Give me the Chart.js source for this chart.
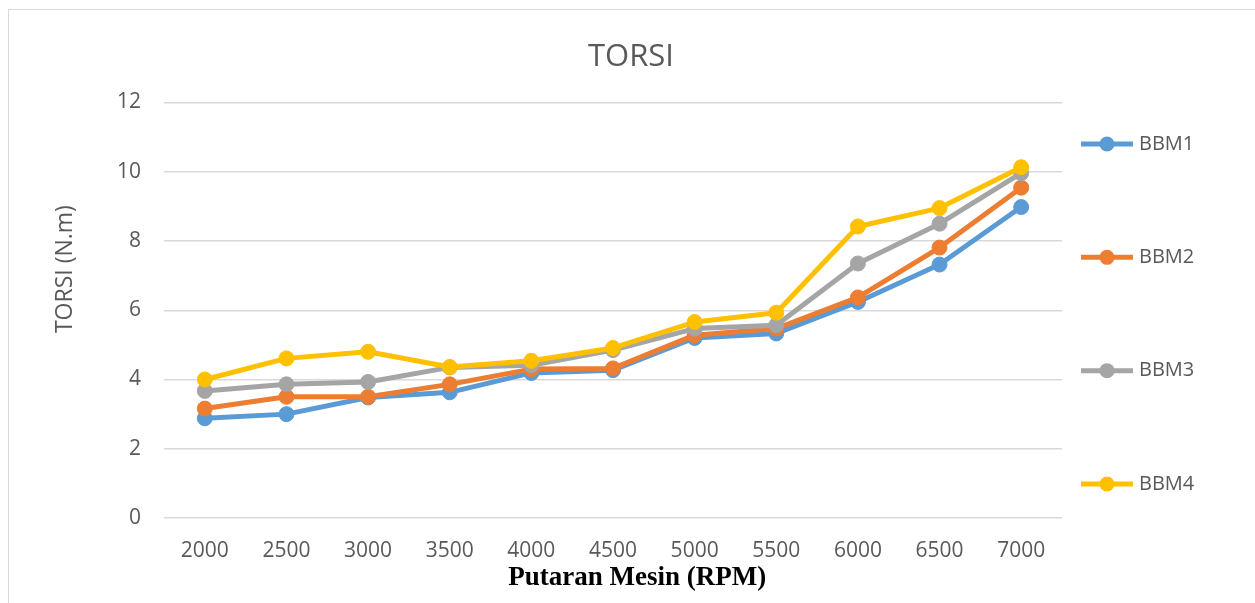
<!DOCTYPE html>
<html><head><meta charset="utf-8">
<script src="https://cdn.jsdelivr.net/npm/chart.js@4/dist/chart.umd.min.js"></script>
<style>
html,body{margin:0;padding:0;background:#fff;overflow:hidden;width:1255px;height:603px}
#frame{position:absolute;left:8px;top:9px;width:1400px;height:800px;border-left:1.5px solid #d9d9d9;border-top:1.5px solid #d9d9d9;box-sizing:border-box}
#c{position:absolute;left:0;top:0}
</style></head><body>
<div id="frame"></div>
<canvas id="c" width="1255" height="603"></canvas>
<script>
const categories = ['2000','2500','3000','3500','4000','4500','5000','5500','6000','6500','7000'];
const bbm1 = [2.88, 3.00, 3.48, 3.63, 4.19, 4.27, 5.20, 5.33, 6.24, 7.32, 8.98];
const bbm2 = [3.16, 3.50, 3.50, 3.86, 4.30, 4.32, 5.28, 5.47, 6.37, 7.81, 9.54];
const bbm3 = [3.67, 3.86, 3.93, 4.35, 4.41, 4.85, 5.47, 5.57, 7.35, 8.50, 9.96];
const bbm4 = [4.00, 4.61, 4.80, 4.36, 4.54, 4.91, 5.66, 5.93, 8.42, 8.95, 10.13];
const seriesNames = ['BBM1','BBM2','BBM3','BBM4'];
const seriesColors = ['#5B9BD5','#ED7D31','#A5A5A5','#FFC000'];
const yTicks = [0, 2, 4, 6, 8, 10, 12];
const chartTitle = 'TORSI';
const xTitle = 'Putaran Mesin (RPM)';
const yTitle = 'TORSI (N.m)';

const seriesValues = [bbm1, bbm2, bbm3, bbm4];
const textGrey = '#595959';

function makeLegendBox(chart) {
  return {
    position: 'right', weight: 100, fullSize: false, options: {},
    left: 0, top: 0, right: 0, bottom: 0, width: 0, height: 0,
    isHorizontal() { return false; },
    update(maxWidth, maxHeight) { this.width = 193; this.height = maxHeight; },
    getPadding() { return {left: 0, right: 0, top: 0, bottom: 0}; },
    draw() {
      const ctx = chart.ctx, area = chart.chartArea;
      const h = area.bottom - area.top;
      ctx.save();
      chart.data.datasets.forEach((ds, i) => {
        const y = area.top + h * (0.1 + 0.2727 * i);
        const x0 = this.left + 19, x1 = this.left + 71, xc = this.left + 45;
        ctx.strokeStyle = ds.borderColor;
        ctx.lineWidth = 5;
        ctx.lineCap = 'butt';
        ctx.beginPath(); ctx.moveTo(x0, y); ctx.lineTo(x1, y); ctx.stroke();
        ctx.fillStyle = ds.borderColor;
        ctx.beginPath(); ctx.arc(xc, y, 7.5, 0, Math.PI * 2); ctx.fill();
        ctx.fillStyle = textGrey;
        ctx.font = '20px "Open Sans"';
        ctx.textAlign = 'left';
        ctx.textBaseline = 'middle';
        ctx.fillText(ds.label, this.left + 77, y);
      });
      ctx.restore();
    }
  };
}

const sideLegend = {
  id: 'sideLegend',
  beforeInit(chart) { Chart.layouts.addBox(chart, makeLegendBox(chart)); }
};

const axisTitles = {
  id: 'axisTitles',
  afterDraw(chart) {
    const ctx = chart.ctx, a = chart.chartArea;
    ctx.save();
    ctx.fillStyle = textGrey;
    ctx.font = '23px "Open Sans"';
    ctx.textAlign = 'center';
    ctx.textBaseline = 'middle';
    ctx.translate(65, a.top + (a.bottom - a.top) * 0.401);
    ctx.rotate(-Math.PI / 2);
    ctx.fillText(yTitle, 0, 0);
    ctx.restore();
    ctx.save();
    ctx.fillStyle = '#000';
    ctx.font = 'bold 27px "Liberation Serif"';
    ctx.textAlign = 'center';
    ctx.textBaseline = 'middle';
    ctx.fillText(xTitle, a.left + (a.right - a.left) * 0.527, a.bottom + 60);
    ctx.restore();
  }
};

new Chart(document.getElementById('c'), {
  type: 'line',
  data: {
    labels: categories,
    datasets: seriesNames.map((name, i) => ({
      label: name,
      data: seriesValues[i],
      borderColor: seriesColors[i],
      backgroundColor: seriesColors[i],
      pointBackgroundColor: seriesColors[i],
      pointBorderColor: seriesColors[i],
      borderWidth: 5,
      pointRadius: 7.5,
      pointBorderWidth: 1,
      borderJoinStyle: 'round',
      borderCapStyle: 'round',
      tension: 0,
      fill: false,
      order: seriesNames.length - i
    }))
  },
  options: {
    responsive: false,
    animation: false,
    events: [],
    layout: { padding: { left: 7, right: 0, top: 0, bottom: 0 } },
    plugins: {
      legend: { display: false },
      tooltip: { enabled: false },
      title: {
        display: true,
        text: chartTitle,
        color: textGrey,
        font: { family: '"Open Sans"', size: 31, weight: 'normal', lineHeight: 1.2 },
        padding: { top: 38.4, bottom: 26.9 }
      }
    },
    scales: {
      x: {
        type: 'category',
        offset: true,
        grid: { display: false, drawTicks: false },
        border: { display: false },
        ticks: { color: textGrey, font: { family: '"Open Sans"', size: 21 }, padding: 20, maxRotation: 0, autoSkip: false },
        afterFit(s) { s.height = 85; }
      },
      y: {
        min: yTicks[0],
        max: yTicks[yTicks.length - 1],
        ticks: { stepSize: yTicks[1] - yTicks[0], color: textGrey, font: { family: '"Open Sans"', size: 21 }, padding: 23 },
        grid: { color: '#d9d9d9', lineWidth: 1.5, drawTicks: false },
        border: { display: false },
        afterFit(s) { s.width = 157; }
      }
    }
  },
  plugins: [sideLegend, axisTitles]
});
</script>
</body></html>
